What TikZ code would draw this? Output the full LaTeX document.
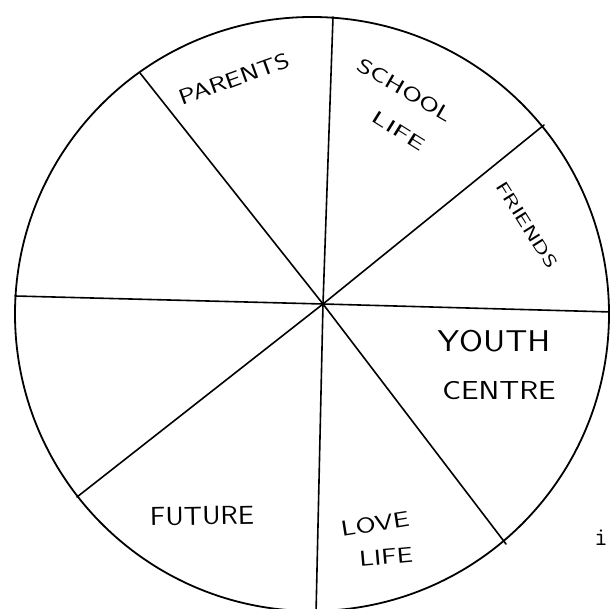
\documentclass[tikz,border=0pt]{standalone}
\usepackage{fontspec}
\begin{document}
\begin{tikzpicture}[x=1pt,y=-1pt,
  rim/.style={line width=1.8pt,draw=black},
  spoke/.style={line width=1.6pt,draw=black,line cap=round},
  lbl/.style={inner sep=0pt,font=\sffamily,text=black}]
\useasboundingbox (0,0) rectangle (610,609);
\clip (0,0) rectangle (610,609);
\fill[white] (0,0) rectangle (610,609);
% hub and rim points
\coordinate (c) at (323,304);
\coordinate (p1) at (333,17);
\coordinate (p2) at (544,125);
\coordinate (p3) at (612,312);
\coordinate (p4) at (506,544);
\coordinate (p5) at (316,614);
\coordinate (p6) at (77,497);
\coordinate (p7) at (15,296);
\coordinate (p8) at (140,73);
\draw[rim] (312,314) circle[radius=297];
\foreach \p in {p1,p2,p3,p4,p5,p6,p7,p8}{\draw[spoke] (c) -- (\p);}
% labels
\node[lbl,rotate=20,xscale=1.3] (parents) at (234,79) {\fontsize{21.6}{24}\selectfont PARENTS};
\node[lbl,rotate=-30,xscale=1.45] (school) at (405,90) {\fontsize{20}{22}\selectfont SCHOOL};
\node[lbl,rotate=-32,xscale=1.75] (slife) at (399,131) {\fontsize{18}{20}\selectfont LIFE};
\node[lbl,rotate=-58,xscale=1.5] (friends) at (527,225) {\fontsize{17.3}{19}\selectfont FRIENDS};
\node[lbl,xscale=1.15] (youth) at (494,341) {\fontsize{30}{32}\selectfont YOUTH};
\node[lbl,xscale=1.2] (centre) at (499,391) {\fontsize{26}{28}\selectfont CENTRE};
\node[lbl,rotate=1,xscale=1.1] (future) at (202,516) {\fontsize{26}{28}\selectfont FUTURE};
\node[lbl,rotate=9,xscale=1.35] (love) at (375,524) {\fontsize{21.6}{24}\selectfont LOVE};
\node[lbl,rotate=5,xscale=1.33] (llife) at (386,557) {\fontsize{21.6}{24}\selectfont LIFE};
\node[inner sep=0pt,anchor=base] (i) at (601,545) {\ttfamily\fontsize{26}{28}\selectfont i};
\end{tikzpicture}
\end{document}
